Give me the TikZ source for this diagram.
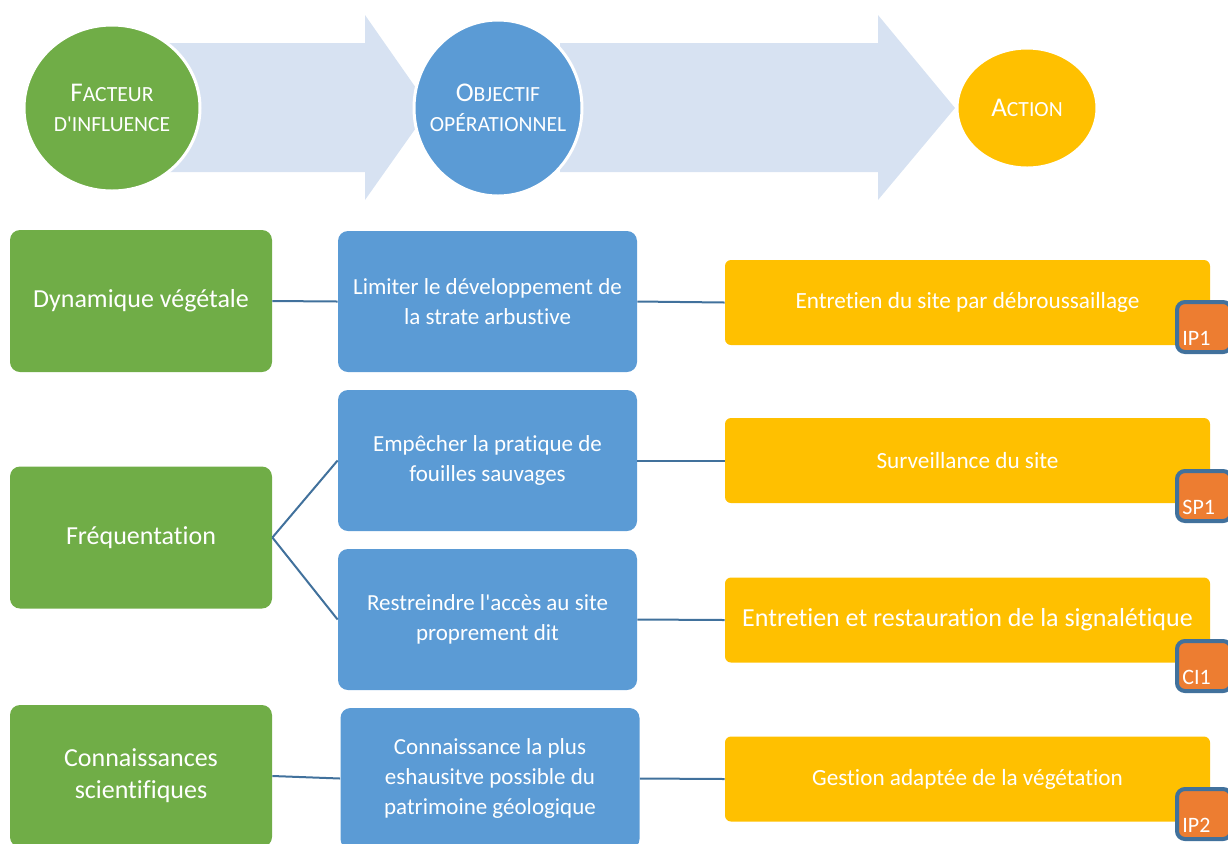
\documentclass[tikz,border=0pt]{standalone}
\usepackage{fontspec}
\setmainfont[Ligatures={NoCommon,TeXOff}]{Carlito}
\usetikzlibrary{shapes.geometric}
\definecolor{cgreen}{HTML}{70AD47}
\definecolor{cblue}{HTML}{5B9BD5}
\definecolor{cyellow}{HTML}{FFC000}
\definecolor{carrow}{HTML}{D7E2F2}
\definecolor{cline}{HTML}{41719C}
\definecolor{ctag}{HTML}{ED7D31}
\newcommand\smcp[1]{{\fontsize{10.8}{12}\selectfont #1}}
\begin{document}
\begin{tikzpicture}[x=0.5pt,y=-0.5pt,
  gbox/.style={fill=cgreen, rounded corners=5pt, minimum width=131pt, minimum height=71pt, text=white, align=center, font=\fontsize{13}{16}\selectfont},
  bbox/.style={fill=cblue, rounded corners=5pt, minimum width=149.5pt, minimum height=70.5pt, text=white, align=center, font=\fontsize{11.5}{15}\selectfont},
  ybox/.style={fill=cyellow, rounded corners=3pt, minimum width=242.5pt, minimum height=42.5pt, text=white, align=center, font=\fontsize{11.6}{14}\selectfont},
  tag/.style={fill=ctag, draw=cline, line width=2pt, rounded corners=4pt, minimum width=27pt, minimum height=25pt, inner sep=0pt},
  tagtext/.style={text=white, font=\fontsize{11}{13}\selectfont, inner sep=0pt},
  head/.style={ellipse, draw=white, line width=1.5pt, text=white, align=center, inner sep=-12pt, font=\fontsize{13.5}{15}\selectfont},
  conn/.style={draw=cline, line width=1pt},
  bigarrow/.style={fill=carrow}
]
\useasboundingbox (0,0) rectangle (1228,843);
\clip (0,0) rectangle (1228,843);
% big arrows
\fill[bigarrow] (140,43) -- (365,43) -- (365,15) -- (430,108) -- (365,200) -- (365,172) -- (140,172) -- cycle;
\fill[bigarrow] (560,43) -- (878,43) -- (878,15) -- (955,108) -- (878,200) -- (878,172) -- (560,172) -- cycle;
% header circles
\node[head, fill=cgreen, minimum width=88pt, minimum height=83pt] (hf) at (112,108) {F\smcp{ACTEUR}\\\smcp{D'INFLUENCE}};
\node[head, fill=cblue, minimum width=84pt, minimum height=88pt] (ho) at (498,108) {O\smcp{BJECTIF}\\\smcp{OPÉRATIONNEL}};
\node[head, fill=cyellow, minimum width=70pt, minimum height=60pt] (ha) at (1027,108) {A\smcp{CTION}};
% green boxes
\node[gbox] (g1) at (141,301) {Dynamique végétale};
\node[gbox] (g2) at (141,537.5) {Fréquentation};
\node[gbox] (g3) at (141,776) {Connaissances\\scientifiques};
% blue boxes
\node[bbox] (b1) at (487.5,301.5) {Limiter le développement de\\la strate arbustive};
\node[bbox] (b2) at (487.5,460.5) {Empêcher la pratique de\\fouilles sauvages};
\node[bbox] (b3) at (487.5,619.5) {Restreindre l'accès au site\\proprement dit};
\node[bbox] (b4) at (490,778.5) {Connaissance la plus\\eshausitve possible du\\patrimoine géologique};
% yellow boxes
\node[ybox] (y1) at (967.5,302.5) {Entretien du site par débroussaillage};
\node[ybox] (y2) at (967.5,460.5) {Surveillance du site};
\node[ybox, font=\fontsize{13}{15}\selectfont] (y3) at (967.5,620) {Entretien et restauration de la signalétique};
\node[ybox] (y4) at (967.5,779) {Gestion adaptée de la végétation};
% tags
\node[tag] (t1) at (1204,327) {};
\node[tag] (t2) at (1204,496) {};
\node[tag] (t3) at (1204,666) {};
\node[tag] (t4) at (1204,814) {};
\node[tagtext, anchor=base west] (l1) at ([shift={(7,-9)}]t1.south west) {IP1};
\node[tagtext, anchor=base west] (l2) at ([shift={(7,-9)}]t2.south west) {SP1};
\node[tagtext, anchor=base west] (l3) at ([shift={(7,-9)}]t3.south west) {CI1};
\node[tagtext, anchor=base west] (l4) at ([shift={(7,-9)}]t4.south west) {IP2};
% connectors
\draw[conn] (g1.east) -- (b1.west);
\draw[conn] (b1.east) -- (y1.west);
\draw[conn] (g2.east) -- (b2.west);
\draw[conn] (g2.east) -- (b3.west);
\draw[conn] (b2.east) -- (y2.west);
\draw[conn] (b3.east) -- (y3.west);
\draw[conn] (g3.east) -- (b4.west);
\draw[conn] (b4.east) -- (y4.west);
\end{tikzpicture}
\end{document}
